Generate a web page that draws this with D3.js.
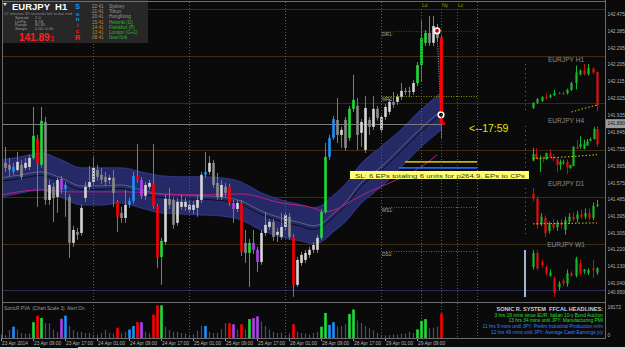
<!DOCTYPE html>
<html>
<head>
<meta charset="utf-8">
<title>EURJPY H1</title>
<script src="https://cdn.jsdelivr.net/npm/d3@7/dist/d3.min.js"></script>
<style>
  html, body { margin: 0; padding: 0; background: #0a0a0a; }
  #graf svg { display: block; }
  text { font-family: Arial, 'Liberation Sans', sans-serif; white-space: pre; }
</style>
</head>
<body>
<div id="graf"></div>
<script>
// ---- datos: velas H1 EURJPY, indice 0 = 23 Apr 01:00, indice 110 = 29 Apr 15:00 ----
abre = [141.627,141.681,141.670,141.633,141.643,141.670,141.654,141.659,141.707,141.809,
  141.670,141.899,141.483,141.553,141.499,141.595,141.542,141.499,141.254,141.313,
  141.307,141.494,141.553,141.579,141.643,141.617,141.606,141.590,141.601,141.473,
  141.414,141.387,141.457,141.478,141.611,141.590,141.505,141.553,141.574,141.451,
  141.179,141.259,141.489,141.483,141.361,141.446,141.446,141.430,141.430,141.441,
  141.483,141.617,141.633,141.681,141.574,141.499,141.553,141.553,141.467,141.435,
  141.467,141.254,141.200,141.254,141.217,141.152,141.307,141.339,141.366,141.297,
  141.286,141.339,141.393,141.286,141.030,141.147,141.163,141.190,141.217,141.217,
  141.281,141.419,141.713,141.814,141.910,141.830,141.910,141.814,141.969,141.985,
  141.841,141.750,141.910,141.873,141.969,141.857,141.926,141.953,142.006,142.006,
  142.033,142.065,142.065,142.059,142.107,142.203,142.321,142.374,142.321,142.401,142.353]
maximo = [141.723,141.766,141.707,141.681,141.739,141.697,141.707,141.723,141.979,141.830,
  141.979,141.926,141.590,141.574,141.601,141.611,141.579,141.515,141.345,141.334,
  141.457,141.579,141.665,141.713,141.670,141.654,141.633,141.617,141.643,141.483,
  141.446,141.537,141.494,141.633,141.782,141.606,141.579,141.590,141.782,141.462,
  141.281,141.510,141.547,141.499,141.494,141.510,141.494,141.483,141.478,141.505,
  141.633,141.739,141.718,141.697,141.627,141.590,141.574,141.569,141.483,141.483,
  141.483,141.323,141.275,141.323,141.233,141.323,141.419,141.382,141.382,141.334,
  141.414,141.419,141.414,141.302,141.179,141.206,141.217,141.233,141.259,141.297,
  141.435,141.787,141.830,141.931,142.027,141.873,141.926,141.985,142.150,142.027,
  141.915,142.038,141.926,142.038,141.985,141.937,141.995,142.022,142.059,142.049,
  142.107,142.081,142.086,142.123,142.219,142.443,142.390,142.465,142.465,142.422,142.363]
minimo = [141.601,141.633,141.611,141.617,141.633,141.590,141.643,141.643,141.697,141.446,
  141.654,141.457,141.457,141.366,141.414,141.515,141.393,141.174,141.233,141.270,
  141.291,141.473,141.537,141.563,141.585,141.569,141.558,141.569,141.446,141.313,
  141.361,141.361,141.441,141.462,141.574,141.489,141.483,141.537,141.435,141.121,
  141.030,141.243,141.435,141.329,141.345,141.430,141.425,141.414,141.409,141.393,
  141.467,141.601,141.617,141.547,141.483,141.483,141.499,141.451,141.361,141.419,
  141.184,141.147,141.019,141.195,141.099,141.137,141.291,141.323,141.265,141.259,
  141.270,141.323,141.270,140.966,141.019,141.131,141.147,141.174,141.200,141.200,
  141.270,141.409,141.697,141.803,141.787,141.761,141.745,141.798,141.953,141.750,
  141.766,141.734,141.830,141.857,141.905,141.841,141.910,141.937,141.974,141.990,
  142.017,142.043,142.033,142.043,142.091,142.113,142.305,142.305,142.305,142.326,141.814]
cierre = [141.686,141.654,141.643,141.659,141.686,141.606,141.681,141.707,141.825,141.681,
  141.905,141.483,141.563,141.494,141.590,141.537,141.563,141.254,141.323,141.297,
  141.441,141.553,141.579,141.654,141.606,141.590,141.579,141.601,141.521,141.393,
  141.387,141.457,141.478,141.611,141.590,141.505,141.563,141.574,141.451,141.179,
  141.265,141.489,141.457,141.350,141.473,141.473,141.473,141.457,141.457,141.483,
  141.617,141.633,141.681,141.563,141.499,141.563,141.521,141.467,141.435,141.467,
  141.206,141.200,141.254,141.217,141.152,141.307,141.350,141.366,141.286,141.313,
  141.339,141.403,141.286,141.030,141.163,141.190,141.200,141.217,141.243,141.281,
  141.419,141.713,141.814,141.915,141.830,141.857,141.761,141.969,142.017,141.830,
  141.899,141.974,141.873,141.969,141.921,141.926,141.979,142.006,141.990,142.033,
  142.065,142.059,142.059,142.107,142.203,142.347,142.374,142.321,142.411,142.347,141.890]
volumen = [2082,1514,4354,6247,4732,2840,2461,2461,8708,12305,
  10979,8140,8140,4732,3407,10601,12305,6626,4354,3407,
  3407,2840,2840,1893,1893,2840,4354,2840,2461,5679,
  2461,3407,4732,6626,8708,8708,3407,2461,12872,17984,
  17984,6247,4354,3407,3407,2840,2461,1893,2082,3975,
  6626,6626,3407,2840,2840,4732,8140,8140,7572,4732,
  7572,4732,10412,10979,11926,9086,6626,4732,3407,2840,
  2840,1514,2461,7572,3407,2840,2461,1893,2840,3407,
  6247,13819,7193,8708,6247,6626,7572,13251,15712,9654,
  8140,6626,5679,4354,2840,1893,1514,1514,1893,1893,
  2461,2461,3407,2840,4732,9465,10412,5300,5679,6247,13440]
// color PVA: w normal alcista, g normal bajista, G verde, R rojo, B azul, M magenta
tipoVela = ('wggBwgwwGR' + 'GgwgwMBgwg' + 'wwwwgggwgR' + 'gwBBRMwwRR' + 'Gwggwwwwww' +
  'wBwggwgRMw' + 'RgGMMwwwgw' + 'wwgRwwwwww' + 'GGBBgwgGGg' + 'wwgwgwwwgw' + 'wggwGGGgwgR').split('')

bandaIdx  = [0,5,10,15,20,25,30,35,40,45,50,55,60,65,70,75,78,80,83,86,90,95,100,105,110]
bandaAlta = [141.697,141.713,141.734,141.697,141.654,141.654,141.654,141.633,141.611,141.606,141.606,141.601,141.579,
  141.521,141.483,141.457,141.441,141.451,141.505,141.563,141.675,141.766,141.857,141.963,142.054]
bandaBaja = [141.499,141.521,141.537,141.499,141.457,141.457,141.467,141.441,141.414,141.409,141.403,141.398,141.377,
  141.323,141.286,141.265,141.249,141.259,141.313,141.366,141.467,141.553,141.659,141.766,141.857]
mediaRapida = [141.601,141.617,141.633,141.601,141.558,141.558,141.563,141.537,141.515,141.510,141.505,141.499,141.478,
  141.425,141.387,141.361,141.345,141.355,141.409,141.467,141.574,141.659,141.761,141.867,141.958]
mediaLentaIdx = [0,10,17,32,40,50,60,70,78,81,84,88,92,96,100,105,109]
mediaLenta = [141.510,141.537,141.526,141.526,141.515,141.510,141.515,141.467,141.441,141.419,141.435,141.483,
  141.526,141.563,141.601,141.659,141.723]

// niveles redondos, pivotes, sesiones
nivelesRedondos = [142.50, 142.25, 142.00, 141.75, 141.50, 141.25, 141.00]
coloresRedondos = ['#1c3c1c', '#3e2c16', '#28284e', '#3e2c16', '#1c3c1c', '#3e2c16', '#2a2a56']
pivNombres = ['DR1', 'MR1', 'MS1', 'DS1']
pivPrecios = [142.385, 142.038, 141.446, 141.211]
pivColores = ['#a01010', '#8c8a00', '#6e6c00', '#5656b4']
sesiones = ['Lo', 'Ny', 'Lc']
sesionIdx = [105, 110, 114]
diaIdx = [23, 47, 71, 95, 119]
precioActual = 141.890
marcas = [[109, 142.385], [110, 141.937]]
slPrecios = [141.686, 141.654]
slDesde = [101, 99.5]
slHasta = 119

etiquetasPrecio = [142.475,142.385,142.295,142.205,142.115,142.025,141.935,141.845,141.755,141.665,
  141.575,141.485,141.395,141.305,141.220,141.130,141.040,140.950]
etiquetasTiempo = ['23 Apr 2014','23 Apr 09:00','23 Apr 17:00','24 Apr 01:00','24 Apr 09:00','24 Apr 17:00',
  '25 Apr 01:00','25 Apr 09:00','25 Apr 17:00','28 Apr 01:00','28 Apr 09:00','28 Apr 17:00','29 Apr 01:00','29 Apr 09:00']
etiquetasIdx = [0,8,16,24,32,40,48,56,64,72,80,88,96,104]

// mini graficos
h1Desde = 95
h1MaIdx = [9, 12, 15]
h1Ma = [141.80, 141.85, 141.895]
h4Desde = 31
h4MaIdx = [0, 10, 19]
h4Ma = [141.45, 141.50, 141.57]
d1Abre   = [142.25,142.05,141.00,141.25,140.70,141.00,140.85,141.05,140.75,141.10,141.30,141.20,141.40,141.30,141.45,141.25,141.75]
d1Max    = [142.50,142.15,141.45,141.35,141.10,141.20,141.15,141.20,141.30,141.45,141.50,141.55,141.60,141.65,141.65,141.90,142.00]
d1Min    = [141.95,140.80,140.90,140.45,140.60,140.75,140.70,140.80,140.55,141.00,141.10,141.05,141.20,141.20,141.15,141.15,141.70]
d1Cierre = [142.05,140.95,141.30,140.60,141.00,140.85,141.05,140.95,141.15,141.30,141.20,141.40,141.30,141.45,141.25,141.75,141.80]
d1MaIdx = [0, 16]
d1Ma = [141.00, 141.04]
w1Abre   = [142.3,144.6,143.1,142.3,140.9,140.4,139.0,140.1,139.6,141.3,140.9,142.9,141.6,141.3,142.1,141.4]
w1Max    = [145.1,145.1,143.5,142.6,141.9,140.8,140.0,140.4,141.9,141.6,144.0,143.5,142.0,142.1,143.5,142.3]
w1Min    = [141.9,141.8,142.2,140.9,140.7,137.4,138.5,139.2,139.1,140.7,140.6,140.9,141.2,141.0,140.5,141.0]
w1Cierre = [144.6,142.1,142.6,141.3,141.4,138.1,139.6,139.6,141.3,140.9,143.7,141.3,141.9,141.8,141.8,142.1]

// textos
infoEtiquetas = ['Spread', 'LinPip', 'Range', 'Swaps']
infoValores = ['2.0', '8.18', '81.85', '0.00, 0.00']
zonas = ['Sydney', 'Tokyo', 'HongKong', 'Helsinki (D)', 'Frankfurt (P)', 'London (G+1)', 'NewYork']
horas = ['22:41', '21:41', '20:41', '15:41', '14:41', '13:41', '08:41']
titulares = ['SONIC R. SYSTEM  FFCAL HEADLINES:',
  '3 hrs 18 mins since EUR: Italian 10-y Bond Auction',
  '13 hrs 34 mins until JPY: Manufacturing PMI',
  '11 hrs 9 mins until JPY: Prelim Industrial Production m/m',
  '12 hrs 49 mins until JPY: Average Cash Earnings y/y']
titularesColor = ['#cfcfcf', '#33dd33', '#33dd33', '#3f7fff', '#3f7fff']
volMax = 18172

// ---- configuracion ----
ancho_total = 625
alto_total = 349
colores = { w: '#d6d6d6', g: '#8a8a8a', G: '#20dc3a', R: '#ff0000', B: '#1e90ff', M: '#b040f0' }

svg = d3.select('#graf').append('svg')
  .attr('width', ancho_total)
  .attr('height', alto_total)
  .style('background', '#0a0a0a')

x = d3.scaleLinear().domain([0, 110]).range([1, 441])
y = d3.scaleLinear().domain([141.040, 142.475]).range([283, 14])
yVol = d3.scaleLinear().domain([0, volMax]).range([338, 305])

velas = abre.map((o, i) => ({ i: i, o: o, h: maximo[i], l: minimo[i], c: cierre[i], t: tipoVela[i], v: volumen[i] }))

svg.append('defs').append('clipPath').attr('id', 'recorte')
  .append('rect').attr('x', 3).attr('y', 2).attr('width', 602).attr('height', 300)

g = svg.append('g').attr('clip-path', 'url(#recorte)')

// lineas de niveles redondos
g.selectAll('line.redondo').data(nivelesRedondos).enter().append('line')
  .attr('x1', 3).attr('x2', 605)
  .attr('y1', d => Math.round(y(d)) + 0.5).attr('y2', d => Math.round(y(d)) + 0.5)
  .attr('stroke', (d, i) => coloresRedondos[i])

// separadores de dia
svg.selectAll('line.dia').data(diaIdx).enter().append('line')
  .attr('x1', d => x(d) + 0.5).attr('x2', d => x(d) + 0.5)
  .attr('y1', 2).attr('y2', 338)
  .attr('stroke', '#5c5c5c').attr('stroke-dasharray', '1,2')

// sesiones
svg.selectAll('line.sesion').data(sesionIdx).enter().append('line')
  .attr('x1', d => x(d) + 0.5).attr('x2', d => x(d) + 0.5)
  .attr('y1', 9).attr('y2', 338)
  .attr('stroke', '#6c6400').attr('stroke-dasharray', '1,2')
svg.selectAll('text.sesion').data(sesiones).enter().append('text')
  .attr('x', (d, i) => x(sesionIdx[i]) + 1).attr('y', 7)
  .attr('font-size', 5).attr('fill', '#b09600')
  .text(d => d)

// banda
bandaDatos = bandaIdx.map((n, i) => ({ n: n, a: bandaAlta[i], b: bandaBaja[i], m: mediaRapida[i] }))
g.append('path').datum(bandaDatos)
  .attr('d', d3.area().x(d => x(d.n)).y0(d => y(d.b)).y1(d => y(d.a)).curve(d3.curveMonotoneX))
  .attr('fill', '#252a66').attr('stroke', '#2e3480').attr('stroke-width', 1.2)
g.append('path').datum(bandaDatos)
  .attr('d', d3.line().x(d => x(d.n)).y(d => y(d.m)).curve(d3.curveMonotoneX))
  .attr('fill', 'none').attr('stroke', '#0c0c22').attr('stroke-width', 1)
  .attr('transform', 'translate(0,3.5)')
g.append('path').datum(bandaDatos)
  .attr('d', d3.line().x(d => x(d.n)).y(d => y(d.m)).curve(d3.curveMonotoneX))
  .attr('fill', 'none').attr('stroke', '#787890').attr('stroke-width', 0.7)
g.append('path').datum(mediaLentaIdx.map((n, i) => [n, mediaLenta[i]]))
  .attr('d', d3.line().x(d => x(d[0])).y(d => y(d[1])).curve(d3.curveMonotoneX))
  .attr('fill', 'none').attr('stroke', '#b81e84').attr('stroke-width', 1)

// pivotes
pivotes = g.selectAll('g.piv').data(pivNombres).enter().append('g')
pivotes.append('line')
  .attr('x1', x(95)).attr('x2', x(119))
  .attr('y1', (d, i) => Math.round(y(pivPrecios[i])) + 0.5).attr('y2', (d, i) => Math.round(y(pivPrecios[i])) + 0.5)
  .attr('stroke', (d, i) => pivColores[i]).attr('stroke-dasharray', '1,1.5')
pivotes.append('text')
  .attr('x', x(95) + 1).attr('y', (d, i) => y(pivPrecios[i]) + 5.5)
  .attr('font-size', 4.8).attr('fill', '#a8a8a8')
  .text(d => d + '\u207B')

// lineas SL
g.selectAll('line.sl').data(slPrecios).enter().append('line')
  .attr('x1', (d, i) => x(slDesde[i])).attr('x2', x(slHasta))
  .attr('y1', d => y(d)).attr('y2', d => y(d))
  .attr('stroke', (d, i) => i == 0 ? '#c0b800' : '#1e64ff').attr('stroke-width', 1.6)

// linea de precio actual
g.append('line')
  .attr('x1', 3).attr('x2', x(110))
  .attr('y1', Math.round(y(precioActual)) + 0.5).attr('y2', Math.round(y(precioActual)) + 0.5)
  .attr('stroke', '#7c7c7c')

// velas
function dibujarVelas(capa, datos, fx, fy, ancho, colorCuerpo, colorMecha) {
  capa.selectAll(null).data(datos).enter().append('line')
    .attr('x1', d => Math.round(fx(d.i)) + 0.5).attr('x2', d => Math.round(fx(d.i)) + 0.5)
    .attr('y1', d => fy(d.h)).attr('y2', d => fy(d.l))
    .attr('stroke', colorMecha).attr('stroke-width', 1)
  capa.selectAll(null).data(datos).enter().append('rect')
    .attr('x', d => Math.round(fx(d.i)) + 0.5 - ancho / 2)
    .attr('y', d => fy(Math.max(d.o, d.c)))
    .attr('width', ancho)
    .attr('height', d => Math.max(1, Math.abs(fy(d.o) - fy(d.c))))
    .attr('fill', colorCuerpo)
}
dibujarVelas(g, velas, x, y, 2.6, d => colores[d.t], '#7a7a7a')

// marcas de operacion
g.append('line')
  .attr('x1', x(marcas[0][0])).attr('y1', y(marcas[0][1]))
  .attr('x2', x(marcas[1][0])).attr('y2', y(marcas[1][1]))
  .attr('stroke', '#7fb0ff').attr('stroke-dasharray', '1,1.5')
g.append('rect').attr('x', x(110) - 1.3).attr('y', y(abre[110]) + 2)
  .attr('width', 2.6).attr('height', y(cierre[110]) - y(abre[110]) - 2).attr('fill', colores.R)
g.selectAll('circle.marca').data(marcas).enter().append('circle')
  .attr('cx', d => x(d[0])).attr('cy', d => y(d[1])).attr('r', 2.8)
  .attr('fill', (d, i) => i == 0 ? '#e00000' : '#000')
  .attr('stroke', '#fff').attr('stroke-width', 1.6)
g.append('rect').attr('x', x(110) + 1.5).attr('y', y(precioActual) - 1.2)
  .attr('width', 2.5).attr('height', 2.5).attr('fill', '#ff0000')

// mini graficos
function miniGrafico(datos, titulo, yTitulo, yArriba, yAbajo, maIdx, ma, ejeSolido) {
  const mg = svg.append('g')
  const fx = d3.scaleLinear().domain([0, datos.length - 1]).range([533, 597])
  const fy = d3.scaleLinear()
    .domain([d3.min(datos, d => d.l), d3.max(datos, d => d.h)])
    .range([yAbajo, yArriba])
  mg.append('text').attr('x', 566).attr('y', yTitulo).attr('text-anchor', 'middle')
    .attr('font-size', 6.6).attr('fill', '#8c8c8c').text(titulo)
  if (ejeSolido) {
    mg.append('rect').attr('x', 524).attr('y', yArriba).attr('width', 2).attr('height', yAbajo - yArriba)
      .attr('fill', '#a4b6d6')
  } else {
    mg.append('line').attr('x1', 525.5).attr('x2', 525.5).attr('y1', yArriba).attr('y2', yAbajo)
      .attr('stroke', '#6e6e6e').attr('stroke-width', 1).attr('stroke-dasharray', '1,3.5')
  }
  dibujarVelas(mg, datos, fx, fy, 2.2, d => d.c >= d.o ? '#19b82e' : '#e01010', d => d.c >= d.o ? '#19b82e' : '#c01010')
  if (ma) {
    mg.append('path').datum(maIdx.map((n, i) => [n, ma[i]]))
      .attr('d', d3.line().x(d => fx(d[0])).y(d => fy(d[1])))
      .attr('fill', 'none').attr('stroke', '#d8d000').attr('stroke-width', 1).attr('stroke-dasharray', '1.5,2')
  }
}
h1Velas = velas.slice(h1Desde).map((d, i) => ({ i: i, o: d.o, h: d.h, l: d.l, c: d.c }))
h4Velas = d3.range(h4Desde, 111, 4).map((s, i) => {
  const idx = d3.range(s, Math.min(s + 4, 111))
  return { i: i, o: abre[s], c: cierre[idx[idx.length - 1]], h: d3.max(idx, k => maximo[k]), l: d3.min(idx, k => minimo[k]) }
})
d1Velas = d1Abre.map((o, i) => ({ i: i, o: o, h: d1Max[i], l: d1Min[i], c: d1Cierre[i] }))
w1Velas = w1Abre.map((o, i) => ({ i: i, o: o, h: w1Max[i], l: w1Min[i], c: w1Cierre[i] }))
miniGrafico(h1Velas, 'EURJPY H1', 62, 64, 111, h1MaIdx, h1Ma, false)
miniGrafico(h4Velas, 'EURJPY H4', 123, 126, 174, h4MaIdx, h4Ma, false)
miniGrafico(d1Velas, 'EURJPY D1', 186, 188, 237, d1MaIdx, d1Ma, false)
miniGrafico(w1Velas, 'EURJPY W1', 247, 250, 297, null, null, true)

// etiqueta SL
svg.append('rect').attr('x', 350).attr('y', 171).attr('width', 179).attr('height', 8).attr('fill', '#ffff70')
svg.append('text').attr('x', 355).attr('y', 177.6)
  .attr('font-family', "'Liberation Mono', 'DejaVu Sans Mono', monospace")
  .attr('font-size', 5.8).attr('fill', '#3a3a10')
  .attr('textLength', 170).attr('lengthAdjust', 'spacingAndGlyphs')
  .text('SL: 6 EPs totaling 6 units for p264.9, EPs to CPs')

// tiempo restante
svg.append('text').attr('x', 469).attr('y', 132)
  .attr('font-size', 10.5).attr('fill', '#e4e400')
  .text('<--17:59')

// eje de precios
svg.append('g').selectAll('text').data(etiquetasPrecio).enter().append('text')
  .attr('x', 607.5).attr('y', d => Math.min(y(d), 292) + 1.8)
  .attr('font-size', 4.8).attr('fill', '#b4b4b4')
  .text(d => d3.format('.3f')(d))
svg.append('rect').attr('x', 605.5).attr('y', y(precioActual) - 4.5).attr('width', 19.5).attr('height', 9)
  .attr('fill', '#9c9c9c')
svg.append('text').attr('x', 607.5).attr('y', y(precioActual) + 1.8)
  .attr('font-size', 4.8).attr('fill', '#111').text(d3.format('.3f')(precioActual))

// panel de informacion
panel = svg.append('g')
panel.append('rect').attr('x', 3).attr('y', 0).attr('width', 145).attr('height', 43).attr('fill', '#272727')
panel.append('path').attr('d', 'M3,3 L7,3 L5,6 Z').attr('fill', '#dcdcdc')
panel.append('text').attr('x', 12).attr('y', 9.8).attr('font-size', 9.5).attr('font-weight', 'bold')
  .attr('fill', '#fff').text('EURJPY  H1')
panel.append('text').attr('x', 4).attr('y', 14.6).attr('font-size', 4.2).attr('fill', '#8a8a8a')
  .attr('textLength', 68).attr('lengthAdjust', 'spacingAndGlyphs')
  .text('17 minutes 59 seconds left to bar end')
panel.selectAll('text.et').data(infoEtiquetas).enter().append('text')
  .attr('x', 15).attr('y', (d, i) => 18.6 + i * 3.9).attr('font-size', 4.1).attr('fill', '#9c9c9c').text(d => d)
panel.selectAll('text.va').data(infoValores).enter().append('text')
  .attr('x', 35).attr('y', (d, i) => 18.6 + i * 3.9).attr('font-size', 4.1).attr('fill', '#9c9c9c').text(d => d)
panel.append('text').attr('x', 19).attr('y', 40.5).attr('font-size', 10).attr('font-weight', 'bold')
  .attr('fill', '#ff1e1e').text('141.89')
panel.append('text').attr('x', 50).attr('y', 40.5).attr('font-size', 7).attr('fill', '#ff1e1e').text('3')
letras = ['S', 'o', 'n', 'i', 'c', 'R']
panel.selectAll('text.sr').data(letras).enter().append('text')
  .attr('x', 77.5).attr('y', (d, i) => [8.6, 15.8, 21.4, 27.2, 33, 40][i]).attr('text-anchor', 'middle')
  .attr('font-size', (d, i) => (i == 0 || i == 5) ? 7 : 6).attr('font-weight', 'bold')
  .attr('fill', (d, i) => i < 3 ? '#1e90ff' : '#ff1e1e').text(d => d)
panel.selectAll('text.hora').data(horas).enter().append('text')
  .attr('x', 92).attr('y', (d, i) => 8 + i * 5.2).attr('font-size', 4.6)
  .attr('fill', (d, i) => i < 3 ? '#9a9a9a' : '#c08a20').text(d => d)
panel.selectAll('text.zona').data(zonas).enter().append('text')
  .attr('x', 109).attr('y', (d, i) => 8 + i * 5.2).attr('font-size', 4.6)
  .attr('fill', (d, i) => i < 3 ? '#9a9a9a' : '#2eb82e').text(d => d)

// subventana PVA
sub = svg.append('g')
sub.selectAll('rect.vol').data(velas).enter().append('rect')
  .attr('x', d => Math.round(x(d.i)) + 0.5 - ((d.t == 'w' || d.t == 'g') ? 0.6 : 1.3))
  .attr('y', d => yVol(d.v))
  .attr('width', d => (d.t == 'w' || d.t == 'g') ? 1.2 : 2.6)
  .attr('height', d => yVol(0) - yVol(d.v))
  .attr('fill', d => (d.t == 'w' || d.t == 'g') ? '#4a4a88' : colores[d.t])
sub.append('text').attr('x', 4).attr('y', 310).attr('font-size', 4.8).attr('fill', '#9a9a9a')
  .text('SonicR PVA  (Chart Scale 3)  Alert On')
sub.selectAll('text.tit').data(titulares).enter().append('text')
  .attr('x', 603).attr('y', (d, i) => [311, 316.8, 322.4, 328, 333.6][i]).attr('text-anchor', 'end')
  .attr('font-size', (d, i) => i == 0 ? 5.6 : 4.8).attr('font-weight', (d, i) => i == 0 ? 'bold' : 'normal')
  .attr('fill', (d, i) => titularesColor[i]).text(d => d)
sub.append('text').attr('x', 607.5).attr('y', 309).attr('font-size', 4.8).attr('fill', '#b4b4b4').text(volMax)
sub.append('text').attr('x', 607.5).attr('y', 336.5).attr('font-size', 4.8).attr('fill', '#b4b4b4').text('0')

// eje de tiempo
ejeT = svg.append('g')
ejeT.selectAll('line').data(etiquetasIdx).enter().append('line')
  .attr('x1', d => x(d) + 0.5).attr('x2', d => x(d) + 0.5).attr('y1', 338).attr('y2', 341)
  .attr('stroke', '#9a9a9a')
ejeT.selectAll('text').data(etiquetasTiempo).enter().append('text')
  .attr('x', (d, i) => x(etiquetasIdx[i]) + 1).attr('y', 344.5)
  .attr('font-size', 4.8).attr('fill', '#b4b4b4').text(d => d)

// marcos
marco = svg.append('g').attr('stroke', '#6c6c6c').attr('shape-rendering', 'crispEdges')
marco.append('line').attr('x1', 2.5).attr('x2', 2.5).attr('y1', 0).attr('y2', 338)
marco.append('line').attr('x1', 605.5).attr('x2', 605.5).attr('y1', 0).attr('y2', 338)
marco.append('line').attr('x1', 2).attr('x2', 606).attr('y1', 1.5).attr('y2', 1.5)
marco.append('line').attr('x1', 2).attr('x2', 606).attr('y1', 302.5).attr('y2', 302.5).attr('stroke-width', 1.5)
marco.append('line').attr('x1', 2).attr('x2', 606).attr('y1', 338.5).attr('y2', 338.5)
svg.append('rect').attr('x', 0).attr('y', 347).attr('width', 625).attr('height', 2).attr('fill', '#d4d4d4')
svg.append('rect').attr('x', 40).attr('y', 347).attr('width', 38).attr('height', 1).attr('fill', '#0a0a0a')
</script>
</body>
</html>
